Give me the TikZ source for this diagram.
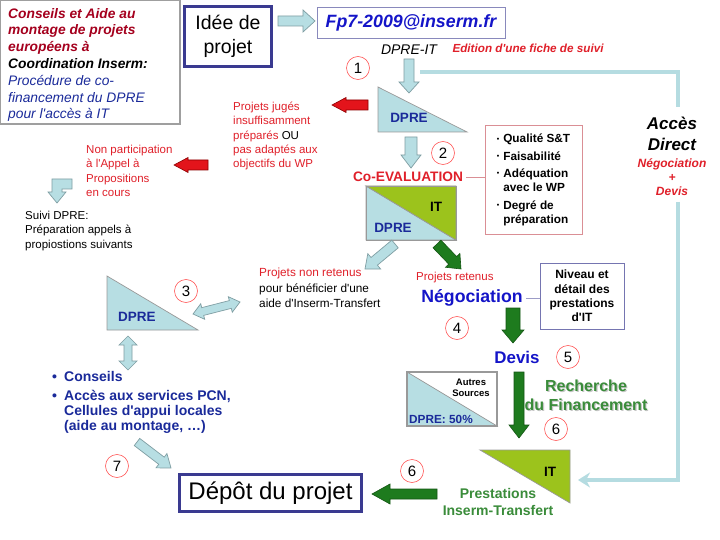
\documentclass[tikz,border=0pt]{standalone}
\usepackage{fontspec}
\setmainfont{Liberation Sans}
\usetikzlibrary{calc,arrows.meta,positioning}

\definecolor{lblue}{HTML}{B7DEE3}
\definecolor{lbline}{HTML}{7F9EA3}
\definecolor{linkblue}{HTML}{B5DCE1}
\definecolor{itgreen}{HTML}{9CC31C}
\definecolor{dgreen}{HTML}{1E7B1E}
\definecolor{recgreen}{HTML}{3A8C3A}
\definecolor{arrred}{HTML}{E3141B}
\definecolor{txtred}{HTML}{E0202A}
\definecolor{dred}{HTML}{A5001E}
\definecolor{dblue}{HTML}{1A2A9A}
\definecolor{nblue}{HTML}{1414C8}
\definecolor{boxblue}{HTML}{3A3A90}
\definecolor{critred}{HTML}{DA8F95}

% block arrow: [style]{from}{to}{shaft half width}{head half width}{head length}
\newcommand{\fatarrow}[6][]{%
  \coordinate (fah) at ($(#3)!#6!(#2)$);
  \draw[#1] ($(#2)!#4!90:(#3)$) -- ($(fah)!#4!-90:(#2)$) -- ($(fah)!#5!-90:(#2)$) -- (#3)
    -- ($(fah)!#5!90:(#2)$) -- ($(fah)!#4!90:(#2)$) -- ($(#2)!#4!-90:(#3)$) -- cycle;
}
% double headed block arrow
\newcommand{\fatdarrow}[6][]{%
  \coordinate (fha) at ($(#2)!#6!(#3)$);
  \coordinate (fhb) at ($(#3)!#6!(#2)$);
  \draw[#1] (#2) -- ($(fha)!#5!90:(#3)$) -- ($(fha)!#4!90:(#3)$) -- ($(fhb)!#4!-90:(#2)$)
    -- ($(fhb)!#5!-90:(#2)$) -- (#3) -- ($(fhb)!#5!90:(#2)$) -- ($(fhb)!#4!90:(#2)$)
    -- ($(fha)!#4!-90:(#3)$) -- ($(fha)!#5!-90:(#3)$) -- cycle;
}
\newcommand{\blt}{\makebox[12pt][l]{•}}
\newcommand{\bltgap}{\hspace*{12pt}}
\newcommand{\cblt}{\makebox[6.5pt][l]{\raisebox{1.6pt}{\fontsize{7}{7}\selectfont•}}}
\newcommand{\cbltgap}{\hspace*{6.5pt}}
\newcommand{\ap}{\textquotesingle}

\begin{document}
\begin{tikzpicture}[x=1pt,y=-1pt,
    hollow/.style={fill=lblue,draw=lbline,line width=0.7pt},
    redarr/.style={fill=arrred,draw=red!55!black,line width=0.6pt},
    greenarr/.style={fill=dgreen,draw=dgreen!70!black,line width=0.6pt},
    numcirc/.style={circle,draw=red!65,line width=0.6pt,minimum size=23pt,inner sep=0pt,font=\fontsize{15}{15}\selectfont},
    tri/.style={fill=lblue,draw=gray!80,line width=0.7pt},
    trigreen/.style={fill=itgreen,draw=gray!80,line width=0.7pt},
    bigbox/.style={draw=boxblue,line width=3pt,inner sep=0pt,align=center},
    link/.style={draw=linkblue,line width=4pt},
    dpretxt/.style={text=dblue,font=\fontsize{13.5}{13.5}\selectfont\bfseries},
    ittxt/.style={font=\fontsize{13.5}{13.5}\selectfont\bfseries},
    redtxt/.style={text=txtred,anchor=north west,align=left,inner sep=0pt,font=\fontsize{11.5}{14.3}\selectfont},
    joinline/.style={draw=gray!70,line width=0.8pt}
  ]
  \fill[white] (0,0) rectangle (720,540);
  \useasboundingbox (0,0) rectangle (720,540);

  % Title box
  \draw[draw=gray!75,line width=1.2pt] (0.6,0.6) rectangle (180,124);
  \node[anchor=north west,align=left,inner sep=0pt,font=\fontsize{13.8}{16.8}\selectfont\bfseries\itshape] (title) at (8,8)
    {\textcolor{dred}{Conseils et Aide au}\\ \textcolor{dred}{montage de projets}\\ \textcolor{dred}{européens à}\\
     Coordination Inserm:\\ \textcolor{dblue}{\mdseries Procédure de co-}\\ \textcolor{dblue}{\mdseries financement du DPRE}\\
     \textcolor{dblue}{\mdseries pour l\ap accès à IT}};

  % Top row
  \node[bigbox,minimum width=87pt,minimum height=60pt,font=\fontsize{19.5}{24}\selectfont] (idee) at (228,36.5) {Idée de\\projet};
  \node[draw=boxblue!60,line width=0.7pt,minimum width=188pt,minimum height=31pt,text=nblue,font=\fontsize{17.8}{17.8}\selectfont\bfseries\itshape] (fp) at (411,22.5) {Fp7-2009@inserm.fr};
  \coordinate (ar0s) at (278,21);
  \coordinate (ar0e) at (315,21);
  \fatarrow[hollow]{ar0s}{ar0e}{5pt}{11pt}{12pt}
  \node[font=\fontsize{14}{14}\selectfont\itshape] (dpreit) at (409,50) {DPRE-IT};
  \node[anchor=west,text=txtred,font=\fontsize{11.7}{11.7}\selectfont\bfseries\itshape] (fiche) at (449,48) {Edition d\ap une fiche de suivi};
  \node[numcirc] (n1) at (358,68) {1};

  % Direct access link
  \coordinate (lkA) at (420,72);
  \coordinate (lkB) at (678,107);
  \coordinate (lkC) at (678,202);
  \coordinate (lkE) at (578,480);
  \draw[link] (lkA) -| (lkB);
  \draw[link,-{Stealth[length=12pt,width=15pt]}] (lkC) |- (lkE);
  \node[align=center,font=\fontsize{17}{21}\selectfont\bfseries\itshape] (acces) at (672,133.5) {Accès\\Direct};
  \node[below=1pt of acces,align=center,text=txtred,font=\fontsize{12}{14}\selectfont\bfseries\itshape] (accnd) {Négociation\\+\\Devis};

  % DPRE step 1
  \coordinate (ar1s) at (409,59);
  \coordinate (ar1e) at (409,93);
  \draw[tri] (378,87) -- (467,132) -- (378,132) -- cycle;
  \fatarrow[hollow]{ar1s}{ar1e}{5pt}{10pt}{11pt}
  \node[dpretxt] (dpreA) at (409,118) {DPRE};
  \coordinate (rd1s) at (368,105);
  \coordinate (rd1e) at (332,105);
  \fatarrow[redarr]{rd1s}{rd1e}{5pt}{7.5pt}{14pt}
  \node[redtxt] (juges) at (233,102)
    {Projets jugés\\insuffisamment\\préparés \textcolor{black}{OU}\\pas adaptés aux\\objectifs du WP};
  \coordinate (rd2s) at (208,165);
  \coordinate (rd2e) at (174,165);
  \fatarrow[redarr]{rd2s}{rd2e}{5pt}{7.5pt}{14pt}
  \node[redtxt] (nonpart) at (86,145) {Non participation\\à l\ap Appel à\\Propositions\\en cours};
  \draw[hollow] (52,179) -- (72,179) -- (72,189) -- (62,189) -- (62,192) -- (66,192) -- (57,203) -- (48,192) -- (52,192) -- cycle;
  \node[redtxt,text=black] (suivi) at (25,211) {Suivi DPRE:\\Préparation appels à\\propiostions suivants};

  % Co-evaluation
  \coordinate (ar2s) at (411,137);
  \coordinate (ar2e) at (411,168);
  \fatarrow[hollow]{ar2s}{ar2e}{6pt}{10pt}{13pt}
  \node[numcirc] (n2) at (443,153) {2};
  \node[text=txtred,font=\fontsize{13.7}{13.7}\selectfont\bfseries] (coeval) at (408,177) {Co-EVALUATION};
  \node[draw=critred,line width=1pt,minimum width=97pt,minimum height=108pt,align=left,font=\fontsize{11.8}{14.3}\selectfont\bfseries] (crit) at (533.5,180)
    {\cblt Qualité S\&T\\[3pt] \cblt Faisabilité\\[3pt] \cblt Adéquation\\ \cbltgap avec le WP\\[3pt] \cblt Degré de\\ \cbltgap préparation};
  \draw[joinline,draw=critred] (coeval.east) -- (crit.west |- coeval.east);
  \draw[tri] (366,186) -- (456,240) -- (366,240) -- cycle;
  \draw[trigreen] (366,186) -- (456,186) -- (456,240) -- cycle;
  \draw[gray!80,line width=0.7pt] (366,186) rectangle (456,240);
  \node[ittxt] (itA) at (436,207) {IT};
  \node[dpretxt] (dpreB) at (393,228) {DPRE};
  \coordinate (ar3s) at (395,244);
  \coordinate (ar3e) at (365,269);
  \fatarrow[hollow]{ar3s}{ar3e}{5pt}{10pt}{12pt}
  \coordinate (gr1s) at (437,244);
  \coordinate (gr1e) at (461,269);
  \fatarrow[greenarr]{gr1s}{gr1e}{5.5pt}{10pt}{12pt}

  % Projects not kept
  \node[redtxt,text=black,font=\fontsize{11.8}{15.5}\selectfont] (nonret) at (259,268)
    {\textcolor{txtred}{Projets non retenus}\\pour bénéficier d\ap une\\aide d\ap Inserm-Transfert};
  \draw[tri] (107,276) -- (198,330) -- (107,330) -- cycle;
  \node[dpretxt] (dpreC) at (137,317) {DPRE};
  \node[numcirc] (n3) at (186,291) {3};
  \coordinate (da1s) at (193,314);
  \coordinate (da1e) at (240,302);
  \fatdarrow[hollow]{da1s}{da1e}{4pt}{8pt}{10pt}
  \coordinate (da2s) at (128,336);
  \coordinate (da2e) at (128,370);
  \fatdarrow[hollow]{da2s}{da2e}{4pt}{9pt}{9pt}
  \node[anchor=north west,align=left,inner sep=0pt,text=dblue,font=\fontsize{14}{15}\selectfont\bfseries] (conseils) at (52,371)
    {\blt Conseils\\[4pt] \blt Accès aux services PCN,\\ \bltgap Cellules d\ap appui locales\\ \bltgap (aide au montage, …)};

  % Projects kept
  \node[redtxt] (retenus) at (416,272) {Projets retenus};
  \node[text=nblue,font=\fontsize{17.7}{17.7}\selectfont\bfseries] (nego) at (472,298) {Négociation};
  \node[draw=boxblue!70,line width=1pt,minimum width=84pt,minimum height=66pt,align=center,font=\fontsize{12}{14.3}\selectfont\bfseries] (niveau) at (582,296)
    {Niveau et\\détail des\\prestations\\d\ap IT};
  \draw[joinline,draw=boxblue!50] (nego.east) -- (niveau.west |- nego.east);
  \node[numcirc] (n4) at (457,328) {4};
  \coordinate (gr2s) at (513,308);
  \coordinate (gr2e) at (513,343);
  \fatarrow[greenarr]{gr2s}{gr2e}{7pt}{11pt}{13pt}
  \node[text=nblue,font=\fontsize{16.9}{16.9}\selectfont\bfseries] (devis) at (517,357) {Devis};
  \node[numcirc] (n5) at (568,357) {5};

  % Funding
  \draw[tri] (407,372) -- (497,426) -- (407,426) -- cycle;
  \draw[gray!80,line width=1.2pt] (407,372) rectangle (497,426);
  \node[align=center,font=\fontsize{9.5}{11}\selectfont\bfseries] (autres) at (471,387.5) {Autres\\Sources};
  \node[anchor=west,inner sep=0pt,text=dblue,font=\fontsize{11.8}{11.8}\selectfont\bfseries] (dpre50) at (409,419) {DPRE: 50\%};
  \coordinate (gr3s) at (519,372);
  \coordinate (gr3e) at (519,438);
  \fatarrow[greenarr]{gr3s}{gr3e}{5pt}{10pt}{13pt}
  \node[align=center,text=gray!45,font=\fontsize{16}{19}\selectfont\bfseries] (rechs) at (587.2,396.7) {Recherche\\du Financement};
  \node[align=center,text=recgreen,font=\fontsize{16}{19}\selectfont\bfseries] (rech) at (586,395.5) {Recherche\\du Financement};
  \node[numcirc] (n6a) at (556,429) {6};

  % Inserm-Transfert and submission
  \draw[trigreen] (480,450) -- (570,450) -- (570,503) -- cycle;
  \node[ittxt] (itB) at (550,472) {IT};
  \node[align=center,text=recgreen,font=\fontsize{14}{17}\selectfont\bfseries] (prest) at (498,501.5) {Prestations\\Inserm-Transfert};
  \node[numcirc] (n6b) at (412,471) {6};
  \node[bigbox,minimum width=182pt,minimum height=37pt,font=\fontsize{24}{24}\selectfont] (depot) at (270.5,493) {Dépôt du projet};
  \coordinate (gr4s) at (437,494);
  \coordinate (gr4e) at (372,494);
  \fatarrow[greenarr]{gr4s}{gr4e}{5pt}{10pt}{18pt}
  \node[numcirc] (n7) at (117,466) {7};
  \coordinate (ar4s) at (137,442);
  \coordinate (ar4e) at (171,468);
  \fatarrow[hollow]{ar4s}{ar4e}{4.5pt}{9pt}{12pt}
\end{tikzpicture}
\end{document}
